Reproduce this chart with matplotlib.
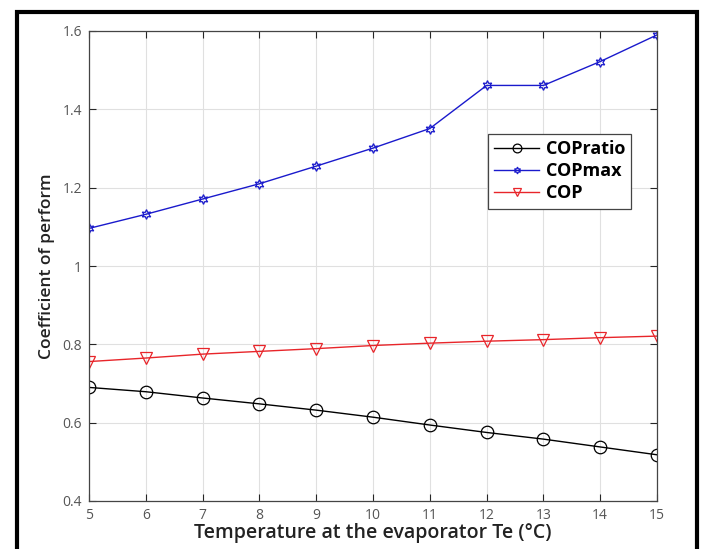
import numpy as np
import matplotlib
matplotlib.use("Agg")
import matplotlib.pyplot as plt
from matplotlib.patches import Rectangle

# Data
te = [5, 6, 7, 8, 9, 10, 11, 12, 13, 14, 15]
cop_ratio = [0.690, 0.679, 0.663, 0.648, 0.632, 0.614, 0.594, 0.575, 0.558, 0.538, 0.518]
cop_max = [1.096, 1.132, 1.171, 1.210, 1.255, 1.301, 1.351, 1.461, 1.461, 1.522, 1.590]
cop = [0.756, 0.765, 0.775, 0.782, 0.789, 0.797, 0.803, 0.808, 0.812, 0.817, 0.821]

x_ticks = list(range(5, 16))
y_ticks = [0.4, 0.6, 0.8, 1.0, 1.2, 1.4, 1.6]
y_ticklabels = ["0.4", "0.6", "0.8", "1", "1.2", "1.4", "1.6"]

plt.rcParams['font.family'] = ['Open Sans', 'DejaVu Sans']

fig = plt.figure(figsize=(7.07, 5.49), dpi=100)
ax = fig.add_axes([89/707, 1-501/549, 568/707, 470/549])

# outer black frame like the screenshot
fig.patches.append(Rectangle((17/707, -0.05), 680/707, 1-12/549+0.05,
                             transform=fig.transFigure, fill=False,
                             edgecolor='black', linewidth=3))

ax.plot(te, cop_ratio, color='black', linewidth=1, marker='o', markersize=9,
        markerfacecolor='none', markeredgewidth=0.9, label='COPratio')
ax.plot(te, cop_max, color='#1a1acc', linewidth=1, marker=(6, 1, 0), markersize=7,
        markerfacecolor='none', markeredgewidth=0.9, label='COPmax')
ax.plot(te, cop, color='#e8252a', linewidth=1, marker='v', markersize=9,
        markerfacecolor='none', markeredgewidth=0.9, label='COP')

ax.set_xlim(5, 15)
ax.set_ylim(0.4, 1.6)
ax.set_xticks(x_ticks)
ax.set_yticks(y_ticks)
ax.set_yticklabels(y_ticklabels)
ax.grid(True, color='#e0e0e0', linewidth=0.8)
ax.set_axisbelow(True)
ax.tick_params(direction='in', top=True, right=True, length=5, width=0.8,
               colors='#262626', labelcolor='#555555', labelsize=10, pad=5)
for s in ax.spines.values():
    s.set_color('#444444')
    s.set_linewidth(0.9)

ax.set_xlabel('Temperature at the evaporator Te (°C)', fontsize=14,
              fontweight='semibold', color='#222222', labelpad=0)
ax.set_ylabel('Coefficient of perform', fontsize=12.5, fontweight='semibold',
              color='#222222', labelpad=5)

leg = ax.legend(loc='upper left', bbox_to_anchor=((488-89)/568, (501-134)/470),
                borderaxespad=0, markerscale=0.7,
                prop={'weight': 'bold', 'size': 13, 'family': ['Open Sans', 'DejaVu Sans']},
                fancybox=False, framealpha=1, edgecolor='#444444',
                handlelength=2.5, labelspacing=0.22, borderpad=0.35,
                handletextpad=0.35)
leg.get_frame().set_linewidth(0.9)

fig.savefig('out.png', dpi=100)
